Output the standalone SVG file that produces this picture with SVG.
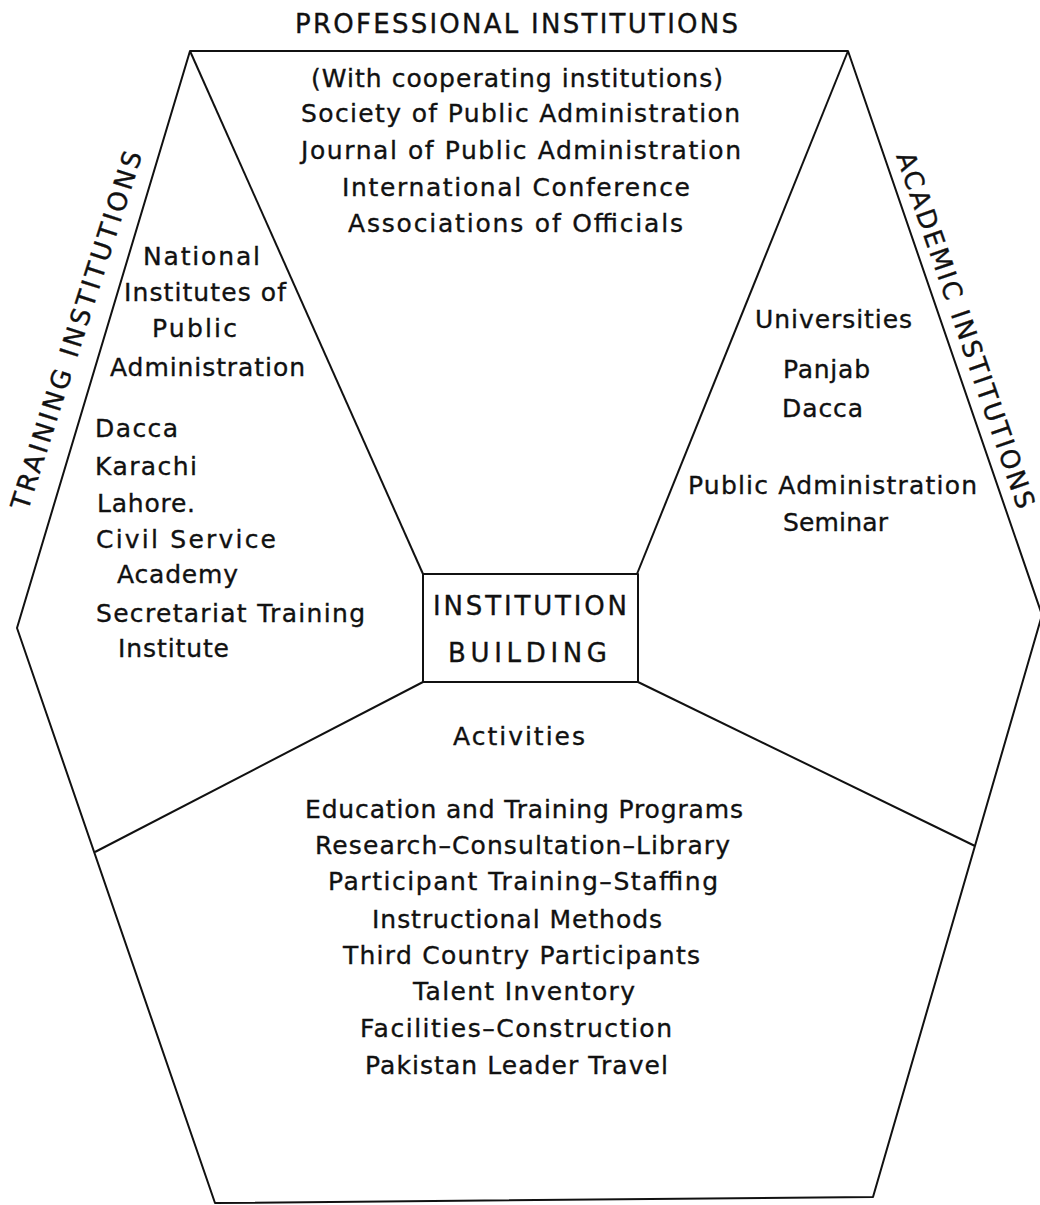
<svg xmlns="http://www.w3.org/2000/svg" width="1040" height="1205" viewBox="0 0 1040 1205">
  <style>
    .t { font-family: "DejaVu Sans", "Liberation Sans", sans-serif; font-size: 25px; fill: #111; stroke: #111; stroke-width: 0.35; }
    .h { font-size: 26px; }
    .ln { stroke: #111; stroke-width: 2; fill: none; stroke-linejoin: round; }
  </style>
  <rect width="1040" height="1205" fill="#fff"/>

  <!-- outer hexagon -->
  <g id="outline">
    <polygon class="ln" points="190,51 848,51 1042,615 873,1197 215,1203 17,628"/>
  </g>

  <!-- dividing lines between the sectors and the central box -->
  <g id="connectors">
    <line class="ln" x1="190" y1="51" x2="423" y2="574"/>
    <line class="ln" x1="848" y1="51" x2="637" y2="574"/>
    <line class="ln" x1="423" y1="682" x2="95" y2="852"/>
    <line class="ln" x1="638" y1="682" x2="975" y2="846"/>
  </g>

  <!-- central box -->
  <g id="institution-building">
    <rect class="ln" x="423" y="574" width="215" height="108"/>
    <text class="t h" x="433" y="615" textLength="194">INSTITUTION</text>
    <text class="t h" x="448" y="662" textLength="159">BUILDING</text>
  </g>

  <!-- top sector -->
  <g id="professional-institutions">
    <text class="t h" x="295" y="33" textLength="443">PROFESSIONAL INSTITUTIONS</text>
    <text class="t" x="311" y="87" textLength="412">(With cooperating institutions)</text>
    <text class="t" x="301" y="122" textLength="439">Society of Public Administration</text>
    <text class="t" x="301" y="159" textLength="440">Journal of Public Administration</text>
    <text class="t" x="342" y="196" textLength="348">International Conference</text>
    <text class="t" x="348" y="232" textLength="335">Associations of Officials</text>
  </g>

  <!-- left sector -->
  <g id="training-institutions">
    <text class="t h" transform="translate(85,333) rotate(-72.2)" text-anchor="middle" textLength="375">TRAINING INSTITUTIONS</text>
    <text class="t" x="143" y="265" textLength="117">National</text>
    <text class="t" x="124" y="301" textLength="162">Institutes of</text>
    <text class="t" x="152" y="337" textLength="85">Public</text>
    <text class="t" x="110" y="376" textLength="195">Administration</text>
    <text class="t" x="95" y="437" textLength="83">Dacca</text>
    <text class="t" x="95" y="475" textLength="102">Karachi</text>
    <text class="t" x="97" y="512" textLength="98">Lahore.</text>
    <text class="t" x="96" y="548" textLength="180">Civil Service</text>
    <text class="t" x="117" y="583" textLength="121">Academy</text>
    <text class="t" x="96" y="622" textLength="269">Secretariat Training</text>
    <text class="t" x="118" y="657" textLength="111">Institute</text>
  </g>

  <!-- right sector -->
  <g id="academic-institutions">
    <text class="t h" transform="translate(957,333) rotate(71)" text-anchor="middle" textLength="375">ACADEMIC INSTITUTIONS</text>
    <text class="t" x="755" y="328" textLength="157">Universities</text>
    <text class="t" x="783" y="378" textLength="87">Panjab</text>
    <text class="t" x="782" y="417" textLength="81">Dacca</text>
    <text class="t" x="688" y="494" textLength="289">Public Administration</text>
    <text class="t" x="783" y="531" textLength="105">Seminar</text>
  </g>

  <!-- bottom sector -->
  <g id="activities">
    <text class="t" x="453" y="745" textLength="132">Activities</text>
    <text class="t" x="305" y="818" textLength="438">Education and Training Programs</text>
    <text class="t" x="315" y="854" textLength="415">Research–Consultation–Library</text>
    <text class="t" x="328" y="890" textLength="390">Participant Training–Staffing</text>
    <text class="t" x="372" y="928" textLength="290">Instructional Methods</text>
    <text class="t" x="343" y="964" textLength="357">Third Country Participants</text>
    <text class="t" x="413" y="1000" textLength="222">Talent Inventory</text>
    <text class="t" x="360" y="1037" textLength="312">Facilities–Construction</text>
    <text class="t" x="365" y="1074" textLength="303">Pakistan Leader Travel</text>
  </g>
</svg>
